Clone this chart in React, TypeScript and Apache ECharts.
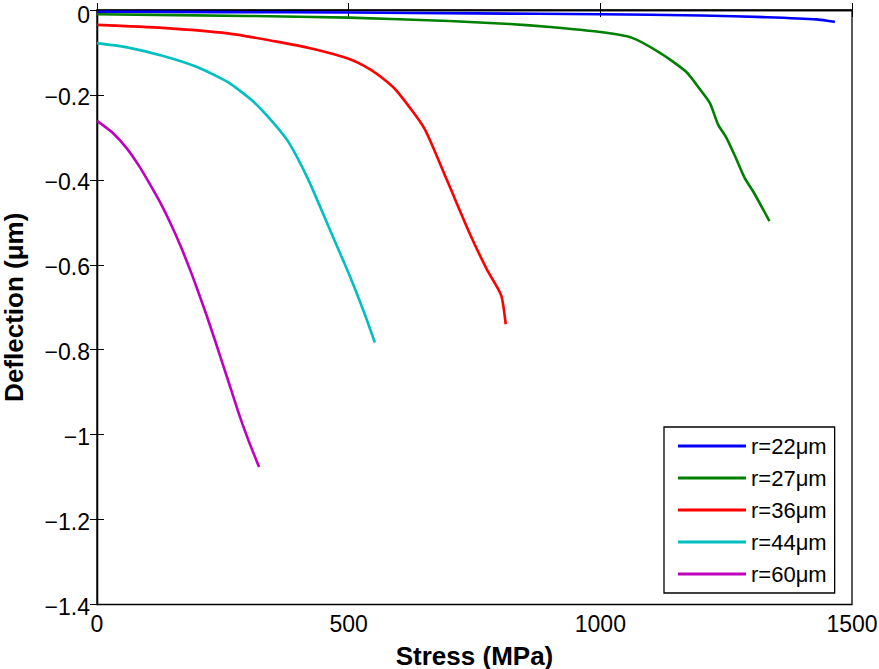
import React, { useEffect, useRef } from "react";
import * as echarts from "echarts";

const seriesNames = ["r=22\u03bcm", "r=27\u03bcm", "r=36\u03bcm", "r=44\u03bcm", "r=60\u03bcm"];
const seriesColors = ["#0000FF", "#008000", "#FF0000", "#00BFBF", "#BF00BF"];

const stress22 = [0, 250, 500, 750, 1000, 1200, 1330, 1430, 1466];
const defl22 = [-0.004, -0.005, -0.006, -0.008, -0.010, -0.013, -0.017, -0.022, -0.028];

const stress27 = [0, 300, 500, 700, 820, 900, 1000, 1062, 1120, 1170, 1200, 1218, 1234, 1250, 1268, 1287, 1304, 1336];
const defl27 = [-0.01, -0.014, -0.018, -0.026, -0.033, -0.04, -0.052, -0.065, -0.102, -0.145, -0.19, -0.22, -0.27, -0.3, -0.345, -0.396, -0.428, -0.497];

const stress36 = [0, 130, 260, 360, 430, 500, 540, 570, 595, 650, 695, 740, 775, 803, 812];
const defl36 = [-0.035, -0.042, -0.055, -0.075, -0.092, -0.115, -0.138, -0.163, -0.19, -0.278, -0.4, -0.525, -0.612, -0.672, -0.74];

const stress44 = [0, 60, 130, 200, 260, 310, 350, 380, 420, 460, 500, 530, 552];
const defl44 = [-0.078, -0.088, -0.108, -0.135, -0.17, -0.215, -0.265, -0.31, -0.4, -0.51, -0.62, -0.71, -0.783];

const stress60 = [0, 30, 60, 85, 105, 125, 145, 165, 185, 200, 218, 235, 251, 268, 284, 303, 322];
const defl60 = [-0.261, -0.288, -0.327, -0.37, -0.41, -0.452, -0.5, -0.553, -0.612, -0.66, -0.72, -0.78, -0.838, -0.9, -0.958, -1.02, -1.076];

const allStress = [stress22, stress27, stress36, stress44, stress60];
const allDefl = [defl22, defl27, defl36, defl44, defl60];

const xTitle = "Stress (MPa)";
const yTitle = "Deflection (\u03bcm)";

const FONT = "'Liberation Sans', Arial, Helvetica, sans-serif";

function fmtY(v: number): string {
  if (Math.abs(v) < 1e-9) return "{z|0}";
  const a = parseFloat(Math.abs(v).toFixed(1));
  return (v < 0 ? "\u2212" : "") + String(a);
}

function fmtX(v: number): string {
  return String(Math.round(v));
}

export default function App() {
  const ref = useRef<HTMLDivElement>(null);
  useEffect(() => {
    if (!ref.current) return;
    const chart = echarts.init(ref.current, null, { renderer: "svg" });
    const tickStyle = { show: true, inside: true, length: 7, lineStyle: { color: "#000", width: 1 } };
    const lineStyle = { show: true, lineStyle: { color: "#000", width: 1.3 } };
    chart.setOption({
      animation: false,
      backgroundColor: "#fff",
      grid: {
        left: 97,
        right: 27,
        top: 10,
        bottom: 64.5,
        containLabel: false,
        outerBoundsMode: "none",
        show: true,
        borderColor: "#000",
        borderWidth: 1.3,
      },
      legend: {
        orient: "vertical",
        left: 664,
        top: 427,
        padding: [8, 8, 8, 14],
        itemWidth: 68,
        itemHeight: 3,
        itemGap: 10,
        icon: "rect",
        borderColor: "#000",
        borderWidth: 1.3,
        backgroundColor: "#fff",
        textStyle: { fontFamily: FONT, fontSize: 22, lineHeight: 22, color: "#000" },
        data: seriesNames,
      },
      xAxis: [
        {
          type: "value",
          min: 0,
          max: 1500,
          interval: 500,
          axisLine: lineStyle,
          axisTick: tickStyle,
          splitLine: { show: false },
          axisLabel: { fontFamily: FONT, fontSize: 23, color: "#000", margin: 8, formatter: fmtX },
          name: xTitle,
          nameLocation: "middle",
          nameGap: 38,
          nameTextStyle: { fontFamily: FONT, fontSize: 26, fontWeight: "bold", color: "#000" },
        },
        {
          type: "value",
          position: "top",
          min: 0,
          max: 1500,
          interval: 500,
          axisLine: lineStyle,
          axisTick: tickStyle,
          splitLine: { show: false },
          axisLabel: { show: false },
        },
      ],
      yAxis: [
        {
          type: "value",
          min: -1.4,
          max: 0,
          interval: 0.2,
          axisLine: lineStyle,
          axisTick: tickStyle,
          splitLine: { show: false },
          axisLabel: {
            fontFamily: FONT,
            fontSize: 23,
            lineHeight: 18,
            padding: [4, 0, 0, 0],
            color: "#000",
            margin: 7,
            formatter: fmtY,
            rich: {
              z: { fontFamily: FONT, fontSize: 23, lineHeight: 18, color: "#000", padding: [6, 0, 0, 0] },
            },
          },
          name: yTitle,
          nameLocation: "middle",
          nameGap: 70,
          nameTextStyle: { fontFamily: FONT, fontSize: 26, fontWeight: "bold", color: "#000" },
        },
        {
          type: "value",
          position: "right",
          min: -1.4,
          max: 0,
          interval: 0.2,
          axisLine: lineStyle,
          axisTick: tickStyle,
          splitLine: { show: false },
          axisLabel: { show: false },
        },
      ],
      series: seriesNames.map((name, i) => ({
        name,
        type: "line",
        xAxisIndex: 0,
        yAxisIndex: 0,
        showSymbol: false,
        symbol: "none",
        smooth: 0.2,
        color: seriesColors[i],
        lineStyle: { color: seriesColors[i], width: 2.6 },
        data: allStress[i].map((s, j) => [s, allDefl[i][j]]),
      })),
    });
    return () => chart.dispose();
  }, []);
  return <div ref={ref} style={{ width: 879, height: 669, position: "absolute", left: 0, top: 0 }} />;
}
